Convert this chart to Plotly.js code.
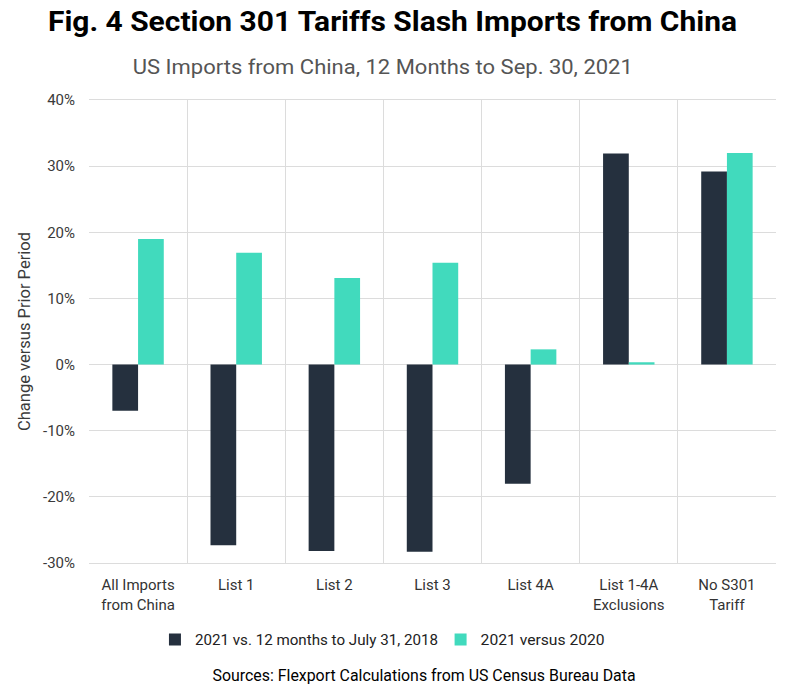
<!DOCTYPE html>
<html>
<head>
<meta charset="utf-8">
<script src="https://cdn.plot.ly/plotly-3.0.1.min.js"></script>
<style>
  html, body { margin: 0; padding: 0; background: #ffffff; }
  #chart { width: 800px; height: 692px; }
</style>
</head>
<body>
<div id="chart"></div>
<script>
// Tariff list categories (line breaks for two-line labels)
const categories = [
  "All Imports<br>from China",
  "List 1",
  "List 2",
  "List 3",
  "List 4A",
  "List 1-4A<br>Exclusions",
  "No S301<br>Tariff"
];

// Percent change in imports versus the prior period
const vs2018 = [-7.0, -27.3, -28.2, -28.3, -18.0, 31.9, 29.2];
const vs2020 = [19.0, 16.9, 13.1, 15.4, 2.3, 0.35, 32.0];

const seriesNames = ["2021 vs. 12 months to July 31, 2018", "2021 versus 2020"];

const yTicks = [-30, -20, -10, 0, 10, 20, 30, 40];

const font = "Roboto, 'Liberation Sans', sans-serif";

const traces = [
  {
    type: "bar",
    name: seriesNames[0],
    x: categories,
    y: vs2018,
    marker: { color: "#25303e" },
    hoverinfo: "x+y"
  },
  {
    type: "bar",
    name: seriesNames[1],
    x: categories,
    y: vs2020,
    marker: { color: "#41dabd" },
    hoverinfo: "x+y"
  }
];

const layout = {
  width: 800,
  height: 692,
  paper_bgcolor: "#ffffff",
  plot_bgcolor: "#ffffff",
  margin: { l: 89, r: 24, t: 100, b: 129 },
  barmode: "group",
  bargap: 0.476,
  bargroupgap: 0,
  title: {
    text: "<b>Fig. 4 Section 301 Tariffs Slash Imports from China</b>",
    font: { family: font, size: 28, color: "#000000" },
    x: 0.4906, xanchor: "center",
    y: 0.969, yanchor: "middle"
  },
  xaxis: {
    type: "category",
    tickson: "boundaries",
    showgrid: true,
    gridcolor: "#dcdcdc",
    gridwidth: 1,
    ticks: "",
    showline: true,
    linecolor: "#dcdcdc",
    mirror: true,
    ticklabelstandoff: 8,
    tickfont: { family: font, size: 15, color: "#333333" },
    fixedrange: true
  },
  yaxis: {
    range: [-30, 40],
    tickvals: yTicks,
    ticktext: yTicks.map(v => v + "%"),
    showgrid: true,
    gridcolor: "#dcdcdc",
    gridwidth: 1,
    zeroline: true,
    zerolinecolor: "#dcdcdc",
    zerolinewidth: 1,
    showline: false,
    ticks: "",
    ticklabelstandoff: 13,
    tickfont: { family: font, size: 15, color: "#3a3a3a" },
    title: {
      text: "Change versus Prior Period",
      font: { family: font, size: 16.5, color: "#3a3a3a" },
      standoff: 8
    },
    fixedrange: true
  },
  showlegend: true,
  legend: {
    orientation: "h",
    x: 0.096, xanchor: "left",
    y: -0.166, yanchor: "middle",
    font: { family: font, size: 15, color: "#222222" },
    itemwidth: 30,
    traceorder: "normal"
  },
  annotations: [
    {
      text: "US Imports from China, 12 Months to Sep. 30, 2021",
      xref: "paper", yref: "paper",
      x: 0.428, xanchor: "center",
      y: 1.0, yanchor: "middle", yshift: 33,
      showarrow: false,
      font: { family: font, size: 21, color: "#555555" }
    },
    {
      text: "Sources: Flexport Calculations from US Census Bureau Data",
      xref: "paper", yref: "paper",
      x: 0.487, xanchor: "center",
      y: -0.242, yanchor: "middle",
      showarrow: false,
      font: { family: font, size: 16, color: "#000000" }
    }
  ]
};

// Fit single-line texts to a condensed width
function condense(el, width) {
  if (!el) return;
  el.setAttribute("textLength", width);
  el.setAttribute("lengthAdjust", "spacingAndGlyphs");
}

const gd = document.getElementById("chart");
Plotly.newPlot(gd, traces, layout, { displayModeBar: false, staticPlot: true }).then(() => {
  condense(gd.querySelector(".gtitle"), 689);
  const ann = gd.querySelectorAll(".annotation-text");
  condense(ann[0], 500);
  condense(ann[1], 423);
  const leg = gd.querySelectorAll(".legendtext");
  condense(leg[0], 243);
  condense(leg[1], 124);
});
</script>
</body>
</html>
